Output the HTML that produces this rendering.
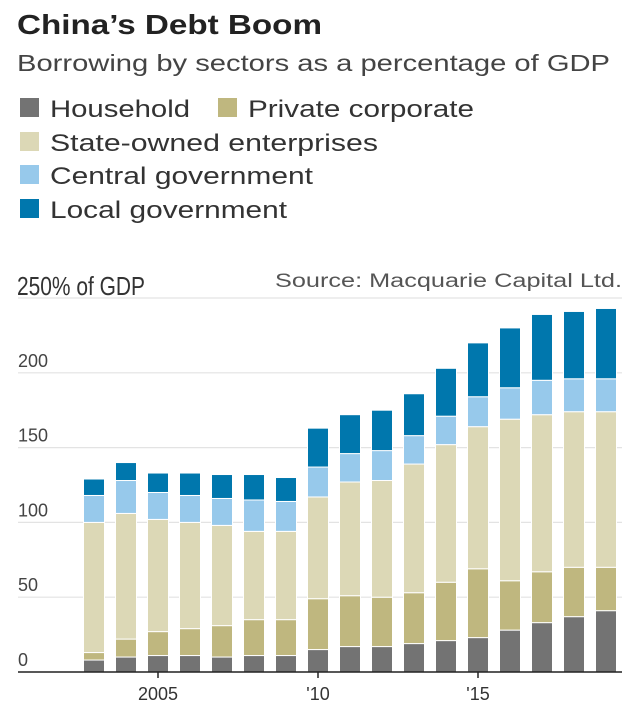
<!DOCTYPE html>
<html><head><meta charset="utf-8"><style>
body{margin:0;background:#fff;font-family:"Liberation Sans",sans-serif;}
svg{display:block}
</style></head><body>
<svg id="c" width="640" height="713">
<text x="17" y="34" font-size="28" font-weight="bold" fill="#222" textLength="305" lengthAdjust="spacingAndGlyphs">China’s Debt Boom</text>
<text x="17" y="71" font-size="23" fill="#444" textLength="593" lengthAdjust="spacingAndGlyphs">Borrowing by sectors as a percentage of GDP</text>
<g id="legend"></g>
<text x="17" y="295" font-size="26" fill="#333" textLength="128" lengthAdjust="spacingAndGlyphs">250% of GDP</text>
<text x="622" y="287" font-size="19" fill="#555" text-anchor="end" textLength="347" lengthAdjust="spacingAndGlyphs">Source: Macquarie Capital Ltd.</text>
<g id="grid"></g><g id="bars"></g><g id="axis"></g>
</svg>
<script>
const years=[2003,2004,2005,2006,2007,2008,2009,2010,2011,2012,2013,2014,2015,2016,2017,2018,2019];
const household=[8,10,11,11,10,11,11,15,17,17,19,21,23,28,33,37,41];
const privateCorp=[5,12,16,18,21,24,24,34,34,33,34,39,46,33,34,33,29];
const soe=[87,84,75,71,67,59,59,68,76,78,86,92,95,108,105,104,104];
const centralGov=[18,22,18,18,18,21,20,20,19,20,19,19,20,21,23,22,22];
const localGov=[11,12,13,15,16,17,16,26,26,27,28,32,36,40,44,45,47];
const yTicks=[0,50,100,150,200,250];
const xTickYears=[2005,2010,2015];
const xTickLabels=["2005","'10","'15"];
const seriesNames=["Household","Private corporate","State-owned enterprises","Central government","Local government"];
const colors=["#737373","#bfb77f","#dcd8b6","#97c9eb","#0077ad"];
const NS="http://www.w3.org/2000/svg";
function y(v){return 672-v*1.496;}
function x(yr){return 94+(yr-2003)*32;}
function mk(tag,attrs,parent){const e=document.createElementNS(NS,tag);for(const k in attrs)e.setAttribute(k,attrs[k]);parent.appendChild(e);return e;}
const grid=document.getElementById('grid'),bars=document.getElementById('bars'),axis=document.getElementById('axis'),legend=document.getElementById('legend');
const lpos=[[18,117],[216,117],[18,151],[18,184],[18,218]];
const lwid=[140,226,328,263,237];
seriesNames.forEach((n,i)=>{
 const g=mk('g',{},legend);
 
 
 mk('rect',{x:lpos[i][0]+2,y:lpos[i][1]-19,width:19,height:19,fill:colors[i]},g);
 const t=mk('text',{x:lpos[i][0]+32,y:lpos[i][1],'font-size':24,fill:'#333',textLength:lwid[i],lengthAdjust:'spacingAndGlyphs'},g);t.textContent=n;
});
yTicks.forEach(v=>{
 const l=mk('line',{x1:18,x2:622,y1:y(v),y2:y(v),stroke:'#e3e3e3','stroke-width':1.2},grid);
 
 
 if(v<250){const t=mk('text',{x:18,y:y(v)-6,'font-size':18,fill:'#444'},grid);t.textContent=v;
 
 }
});
const series=[household,privateCorp,soe,centralGov,localGov];
years.forEach((yr,i)=>{
 let cum=0;
 series.forEach((s,j)=>{
  const top=cum+s[i];
  const r=mk('rect',{x:x(yr)-10.5,y:y(top),width:21,height:y(cum)-y(top),fill:colors[j],stroke:'#fff','stroke-width':1},bars);
  
  
  cum=top;
 });
});
const ax=mk('line',{x1:18,x2:622,y1:672,y2:672,stroke:'#222','stroke-width':1.5},axis);


xTickYears.forEach((yr,i)=>{
 mk('line',{x1:x(yr),x2:x(yr),y1:672,y2:678,stroke:'#222','stroke-width':1.5},axis);
 const t=mk('text',{x:x(yr),y:700,'font-size':18,fill:'#333','text-anchor':'middle'},axis);t.textContent=xTickLabels[i];
 
 
});
</script>
</body></html>
